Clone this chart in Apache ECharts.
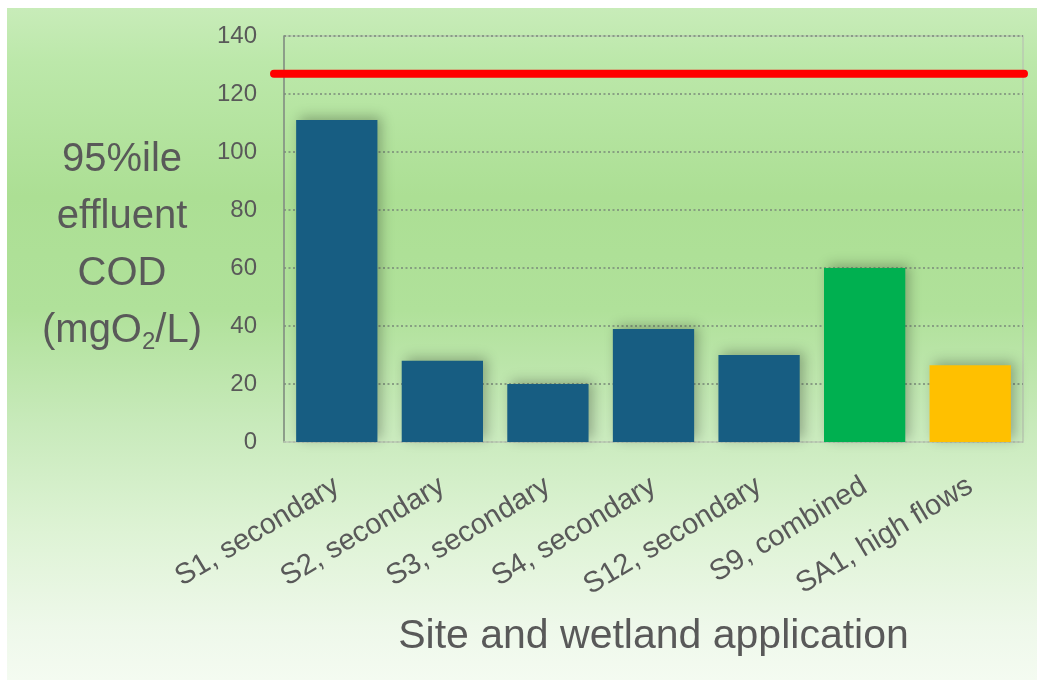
<!DOCTYPE html>
<html>
<head>
<meta charset="utf-8">
<script src="https://cdn.jsdelivr.net/npm/echarts@6/dist/echarts.min.js"></script>
<style>
  html, body { margin: 0; padding: 0; background: #ffffff; }
  #bg { position: absolute; left: 7px; top: 8px; width: 1030px; height: 672px;
        background: linear-gradient(to bottom, #c8ecb9 0%, #bce8aa 8%, #acdf94 28%, #b0e19a 45%, #c8eabb 62%, #def3d5 78%, #eef8ea 92%, #f4fbf1 100%); }
  #chart { position: absolute; left: 0; top: 0; width: 1037px; height: 682px; }
</style>
</head>
<body>
<div id="bg"></div>
<div id="chart"></div>
<script>
const categories = ['S1, secondary', 'S2, secondary', 'S3, secondary', 'S4, secondary', 'S12, secondary', 'S9, combined', 'SA1, high flows'];
const codValues = [111, 28, 20, 39, 30, 60, 26.5];
const limitValue = 127;
const yTicks = [0, 20, 40, 60, 80, 100, 120, 140];
const barColors = ['#175d82', '#175d82', '#175d82', '#175d82', '#175d82', '#00b050', '#ffc000'];

const textColor = '#595959';
const fontFam = '"Liberation Sans", Arial, sans-serif';

const chart = echarts.init(document.getElementById('chart'));
chart.setOption({
  backgroundColor: 'transparent',
  animation: false,
  grid: [
    { left: 284, right: 14, top: 36, bottom: 240, show: true, borderColor: '#b9c9b1', borderWidth: 1.5, backgroundColor: 'transparent' },
    { left: 274, right: 13, top: 36, bottom: 240, show: false }
  ],
  xAxis: [
    {
      type: 'category', gridIndex: 0, data: categories,
      axisLine: { show: true, lineStyle: { color: '#c2d2ba', width: 1.5 } },
      axisTick: { show: false },
      axisLabel: { rotate: 31, margin: 42, fontSize: 29, color: textColor, fontFamily: fontFam, interval: 0 },
      name: 'Site and wetland application', nameLocation: 'middle', nameGap: 174,
      nameTextStyle: { fontSize: 41, color: textColor, fontFamily: fontFam }
    },
    { type: 'value', gridIndex: 1, min: 0, max: 1, show: false }
  ],
  yAxis: [
    {
      type: 'value', gridIndex: 0, min: yTicks[0], max: yTicks[yTicks.length - 1], interval: yTicks[1] - yTicks[0],
      axisLine: { show: true, lineStyle: { color: '#7d8c7d', width: 1.5 } },
      axisTick: { show: false },
      axisLabel: { fontSize: 24, color: textColor, fontFamily: fontFam, margin: 27 },
      splitLine: { show: true, lineStyle: { color: '#7a8a7a', type: [2, 2.5], width: 1.5 } },
      name: '{t|95%ile}\n{t|effluent}\n{t|COD}\n{t|(mgO}{s|2}{t|/L)}',
      nameLocation: 'middle', nameRotate: 0, nameGap: 162,
      nameTextStyle: {
        align: 'center', verticalAlign: 'middle', color: textColor, fontFamily: fontFam,
        padding: [12, 0, 0, 0],
        rich: {
          t: { fontSize: 40, lineHeight: 57, color: textColor, fontFamily: fontFam },
          s: { fontSize: 24, lineHeight: 57, color: textColor, fontFamily: fontFam, padding: [24, 0, 0, 0] }
        }
      }
    },
    { type: 'value', gridIndex: 1, min: 0, max: 140, show: false }
  ],
  series: [
    {
      type: 'bar', xAxisIndex: 0, yAxisIndex: 0,
      barCategoryGap: '23%',
      data: codValues.map((v, i) => ({
        value: v,
        itemStyle: { color: barColors[i], shadowBlur: 12, shadowColor: 'rgba(0,0,0,0.28)', shadowOffsetX: 4, shadowOffsetY: -3 }
      })),
      z: 2
    },
    {
      type: 'line', xAxisIndex: 1, yAxisIndex: 1,
      data: [[0, limitValue], [1, limitValue]],
      symbol: 'none',
      lineStyle: { color: '#ff0000', width: 8, cap: 'round' },
      z: 5
    }
  ]
});
</script>
</body>
</html>
